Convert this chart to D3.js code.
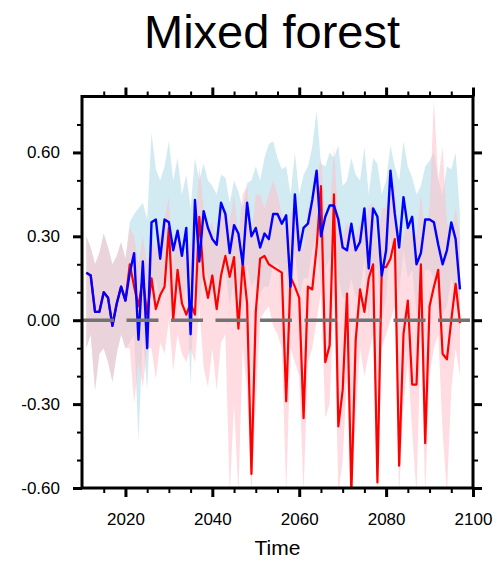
<!DOCTYPE html>
<html>
<head>
<meta charset="utf-8">
<script src="https://cdn.jsdelivr.net/npm/d3@7/dist/d3.min.js"></script>
<style>
	body{ margin:0; background:#ffffff; }
	svg{ font-family:'Liberation Sans', Arial, Helvetica, sans-serif; }
</style>
</head>
<body>
<svg id="chart" width="497" height="561"></svg>
<script>
'use strict'

var years = [
	2011, 2012, 2013, 2014, 2015, 2016, 2017, 2018, 2019, 2020,
	2021, 2022, 2023, 2024, 2025, 2026, 2027, 2028, 2029, 2030,
	2031, 2032, 2033, 2034, 2035, 2036, 2037, 2038, 2039, 2040,
	2041, 2042, 2043, 2044, 2045, 2046, 2047, 2048, 2049, 2050,
	2051, 2052, 2053, 2054, 2055, 2056, 2057, 2058, 2059, 2060,
	2061, 2062, 2063, 2064, 2065, 2066, 2067, 2068, 2069, 2070,
	2071, 2072, 2073, 2074, 2075, 2076, 2077, 2078, 2079, 2080,
	2081, 2082, 2083, 2084, 2085, 2086, 2087, 2088, 2089, 2090,
	2091, 2092, 2093, 2094, 2095, 2096, 2097
];

// blue scenario: mean and spread
var blueMean = [
	0.17, 0.16, 0.03, 0.03, 0.10, 0.08, -0.02, 0.06, 0.12, 0.07,
	0.17, 0.24, -0.07, 0.21, -0.10, 0.35, 0.36, 0.22, 0.36, 0.35,
	0.25, 0.32, 0.23, 0.33, -0.05, 0.43, 0.21, 0.39, 0.33, 0.29,
	0.27, 0.42, 0.38, 0.24, 0.34, 0.31, 0.20, 0.42, 0.30, 0.33,
	0.26, 0.31, 0.29, 0.38, 0.38, 0.345, 0.375, 0.12, 0.45, 0.25,
	0.33, 0.345, 0.43, 0.535, 0.30, 0.37, 0.41, 0.41, 0.36, 0.26,
	0.25, 0.345, 0.25, 0.28, 0.40, 0.185, 0.40, 0.37, 0.16, 0.25,
	0.535, 0.38, 0.26, 0.44, 0.33, 0.37, 0.20, 0.24, 0.36, 0.36,
	0.35, 0.27, 0.20, 0.25, 0.35, 0.29, 0.11
];
var blueHigh = [
	0.30, 0.26, 0.20, 0.24, 0.31, 0.26, 0.20, 0.23, 0.28, 0.22,
	0.35, 0.38, 0.40, 0.42, 0.36, 0.67, 0.54, 0.50, 0.55, 0.64,
	0.50, 0.58, 0.45, 0.52, 0.40, 0.58, 0.50, 0.56, 0.50, 0.48,
	0.45, 0.52, 0.51, 0.42, 0.50, 0.46, 0.40, 0.49, 0.50, 0.55,
	0.50, 0.58, 0.63, 0.64, 0.58, 0.54, 0.55, 0.45, 0.60, 0.45,
	0.52, 0.55, 0.62, 0.75, 0.56, 0.55, 0.60, 0.58, 0.625, 0.48,
	0.50, 0.58, 0.52, 0.50, 0.62, 0.45, 0.58, 0.56, 0.45, 0.50,
	0.625, 0.55, 0.50, 0.64, 0.55, 0.51, 0.45, 0.48, 0.55, 0.57,
	0.60, 0.50, 0.45, 0.55, 0.54, 0.60, 0.38
];
var blueLow = [
	-0.10, -0.05, -0.25, -0.12, -0.10, -0.15, -0.22, -0.12, -0.05, -0.10,
	-0.08, -0.05, -0.43, -0.05, -0.25, 0.10, 0.15, 0.05, 0.18, 0.12,
	0.05, 0.10, 0.05, 0.12, -0.23, 0.20, 0.05, 0.20, 0.15, 0.10,
	0.08, 0.22, 0.18, 0.05, 0.15, 0.12, 0.02, 0.20, 0.12, 0.15,
	0.10, 0.12, 0.12, 0.20, 0.20, 0.15, 0.18, -0.05, 0.25, 0.08,
	0.15, 0.15, 0.25, 0.30, 0.12, 0.18, 0.22, 0.22, 0.15, 0.08,
	0.08, 0.15, 0.08, 0.10, 0.22, 0.00, 0.20, 0.18, 0.00, 0.08,
	0.30, 0.20, 0.10, 0.25, 0.15, 0.18, 0.02, 0.05, 0.18, 0.18,
	0.15, 0.08, 0.02, 0.05, 0.15, 0.10, -0.05
];

// red scenario: mean and spread
var redMean = [
	0.17, 0.16, 0.03, 0.03, 0.10, 0.08, -0.02, 0.06, 0.12, 0.07,
	0.20, 0.12, 0.05, 0.15, 0.02, 0.15, 0.04, 0.09, 0.12, 0.33,
	0.00, 0.18, 0.06, 0.02, 0.06, 0.02, 0.37, 0.155, 0.08, 0.16,
	0.04, 0.16, 0.23, 0.155, 0.226, -0.03, 0.21, 0.06, -0.55, 0.03,
	0.22, 0.23, 0.20, 0.19, 0.18, 0.17, -0.29, 0.155, 0.12, 0.08,
	-0.35, 0.12, 0.11, 0.26, 0.48, -0.15, -0.09, 0.45, -0.38, -0.25,
	0.095, -0.62, -0.07, 0.11, 0.03, 0.15, 0.20, -0.58, 0.19, 0.19,
	0.22, 0.29, -0.52, -0.05, 0.07, -0.23, -0.23, 0.20, -0.44, 0.05,
	0.12, 0.18, -0.12, -0.14, 0.00, 0.13, -0.01
];
var redHigh = [
	0.30, 0.26, 0.20, 0.24, 0.31, 0.26, 0.20, 0.23, 0.28, 0.22,
	0.33, 0.30, 0.20, 0.30, 0.20, 0.30, 0.25, 0.30, 0.36, 0.44,
	0.20, 0.34, 0.26, 0.22, 0.28, 0.30, 0.55, 0.40, 0.32, 0.35,
	0.26, 0.38, 0.40, 0.35, 0.45, 0.30, 0.45, 0.48, 0.30, 0.45,
	0.45, 0.40, 0.45, 0.50, 0.45, 0.38, 0.30, 0.38, 0.42, 0.35,
	0.25, 0.40, 0.40, 0.50, 0.58, 0.35, 0.38, 0.62, 0.35, 0.30,
	0.35, 0.30, 0.30, 0.35, 0.32, 0.40, 0.42, 0.25, 0.40, 0.40,
	0.45, 0.48, 0.25, 0.30, 0.35, 0.30, 0.30, 0.45, 0.30, 0.40,
	0.79, 0.50, 0.62, 0.35, 0.30, 0.40, 0.30
];
var redLow = [
	-0.10, -0.05, -0.25, -0.12, -0.10, -0.15, -0.22, -0.12, -0.05, -0.10,
	-0.10, -0.30, -0.15, -0.24, -0.10, -0.10, -0.21, -0.08, -0.12, 0.00,
	-0.18, -0.05, -0.12, -0.15, -0.10, -0.15, 0.05, -0.17, -0.24, -0.10,
	-0.25, -0.08, -0.05, -0.62, -0.30, -0.62, -0.10, -0.25, -0.62, -0.30,
	0.00, 0.03, 0.05, -0.02, -0.05, -0.10, -0.62, -0.10, -0.15, -0.20,
	-0.62, -0.15, -0.10, 0.00, 0.10, -0.35, -0.30, 0.10, -0.62, -0.50,
	-0.20, -0.62, -0.35, -0.10, -0.20, -0.12, -0.05, -0.62, -0.10, -0.05,
	0.00, 0.05, -0.62, -0.30, -0.15, -0.40, -0.62, -0.05, -0.62, -0.20,
	-0.10, -0.05, -0.40, -0.62, -0.25, -0.10, -0.20
];

var xMajorTicks = [2020, 2040, 2060, 2080, 2100];
var xMinorTicks = [2015, 2025, 2030, 2035, 2045, 2050, 2055, 2065, 2070, 2075, 2085, 2090, 2095];
var yMajorTicks = [-0.6, -0.3, 0, 0.3, 0.6];
var yMinorTicks = [-0.5, -0.4, -0.2, -0.1, 0.1, 0.2, 0.4, 0.5, 0.7];

var titleText = 'Mixed forest';
var xTitle = 'Time';

function drawChart(){
	var svg = d3.select('#chart');
	var plot = { left: 82, right: 473, top: 96.5, bottom: 488 };

	var xScale = d3.scaleLinear()
		.domain([2010, 2100])
		.range([plot.left, plot.right]);
	var yScale = d3.scaleLinear()
		.domain([-0.6, 0.8])
		.range([plot.bottom, plot.top]);

	svg.append('clipPath')
		.attr('id', 'plotClip')
		.append('rect')
		.attr('x', plot.left)
		.attr('y', plot.top)
		.attr('width', plot.right - plot.left)
		.attr('height', plot.bottom - plot.top);

	var rows = years.map(function(yr, i){
		return {
			year: yr,
			blue: blueMean[i], blueHi: blueHigh[i], blueLo: blueLow[i],
			red: redMean[i], redHi: redHigh[i], redLo: redLow[i]
		};
	});

	var inner = svg.append('g').attr('clip-path', 'url(#plotClip)');

	function band(hiKey, loKey){
		return d3.area()
			.x(function(d){ return xScale(d.year); })
			.y0(function(d){ return yScale(d[loKey]); })
			.y1(function(d){ return yScale(d[hiKey]); });
	}
	function line(key){
		return d3.line()
			.x(function(d){ return xScale(d.year); })
			.y(function(d){ return yScale(d[key]); });
	}

	inner.append('path')
		.datum(rows)
		.attr('d', band('blueHi', 'blueLo'))
		.attr('fill', '#add8e6')
		.attr('fill-opacity', 0.55);

	inner.append('path')
		.datum(rows)
		.attr('d', band('redHi', 'redLo'))
		.attr('fill', '#ffc0cb')
		.attr('fill-opacity', 0.55);

	inner.append('path')
		.datum(rows)
		.attr('d', line('red'))
		.attr('fill', 'none')
		.attr('stroke', '#ff0000')
		.attr('stroke-width', 2.2)
		.attr('stroke-linejoin', 'round');

	inner.append('path')
		.datum(rows)
		.attr('d', line('blue'))
		.attr('fill', 'none')
		.attr('stroke', '#0000ff')
		.attr('stroke-width', 2.4)
		.attr('stroke-linejoin', 'round');

	// zero reference
	inner.append('line')
		.attr('x1', xScale(2010))
		.attr('x2', xScale(2100))
		.attr('y1', yScale(0))
		.attr('y2', yScale(0))
		.attr('stroke', '#737373')
		.attr('stroke-width', 3.5)
		.attr('stroke-dasharray', '32,12.5');

	// axes: major ticks with labels, minor ticks without
	var fmt = function(d){ return d.toFixed(2); };
	var axes = [
		{ gen: d3.axisBottom, scale: xScale, at: [0, plot.bottom], major: xMajorTicks, minor: xMinorTicks, label: true, fmt: function(d){ return d; } },
		{ gen: d3.axisTop, scale: xScale, at: [0, plot.top], major: xMajorTicks, minor: xMinorTicks, label: false },
		{ gen: d3.axisLeft, scale: yScale, at: [plot.left, 0], major: yMajorTicks, minor: yMinorTicks, label: true, fmt: fmt },
		{ gen: d3.axisRight, scale: yScale, at: [plot.right, 0], major: yMajorTicks, minor: yMinorTicks, label: false }
	];

	for(var a of axes){
		var gMinor = svg.append('g')
			.attr('transform', `translate(${a.at[0]}, ${a.at[1]})`)
			.call(a.gen(a.scale).tickValues(a.minor).tickSize(5).tickSizeOuter(0).tickFormat(''));
		gMinor.selectAll('.tick line').attr('stroke', '#000').attr('stroke-width', 2);

		var gMajor = svg.append('g')
			.attr('transform', `translate(${a.at[0]}, ${a.at[1]})`)
			.call(a.gen(a.scale).tickValues(a.major).tickSize(9).tickSizeOuter(0)
				.tickPadding(a.gen === d3.axisBottom ? 16 : 13)
				.tickFormat(a.label ? a.fmt : ''));
		gMajor.selectAll('.tick line').attr('stroke', '#000').attr('stroke-width', 3);
		gMajor.selectAll('.tick text')
			.attr('fill', '#000')
			.attr('font-size', 17)
			.attr('font-family', "'Liberation Sans', Arial, sans-serif");

		gMinor.select('.domain').remove();
		gMajor.select('.domain').remove();
	}

	svg.append('rect')
		.attr('x', plot.left)
		.attr('y', plot.top)
		.attr('width', plot.right - plot.left)
		.attr('height', plot.bottom - plot.top)
		.attr('fill', 'none')
		.attr('stroke', '#000')
		.attr('stroke-width', 3);

	svg.append('text')
		.attr('x', (plot.left + plot.right) / 2)
		.attr('y', 555)
		.attr('text-anchor', 'middle')
		.attr('font-size', 21)
		.text(xTitle);

	svg.append('text')
		.attr('x', 272)
		.attr('y', 48)
		.attr('text-anchor', 'middle')
		.attr('font-size', 47)
		.text(titleText);
}

drawChart();
</script>
</body>
</html>
